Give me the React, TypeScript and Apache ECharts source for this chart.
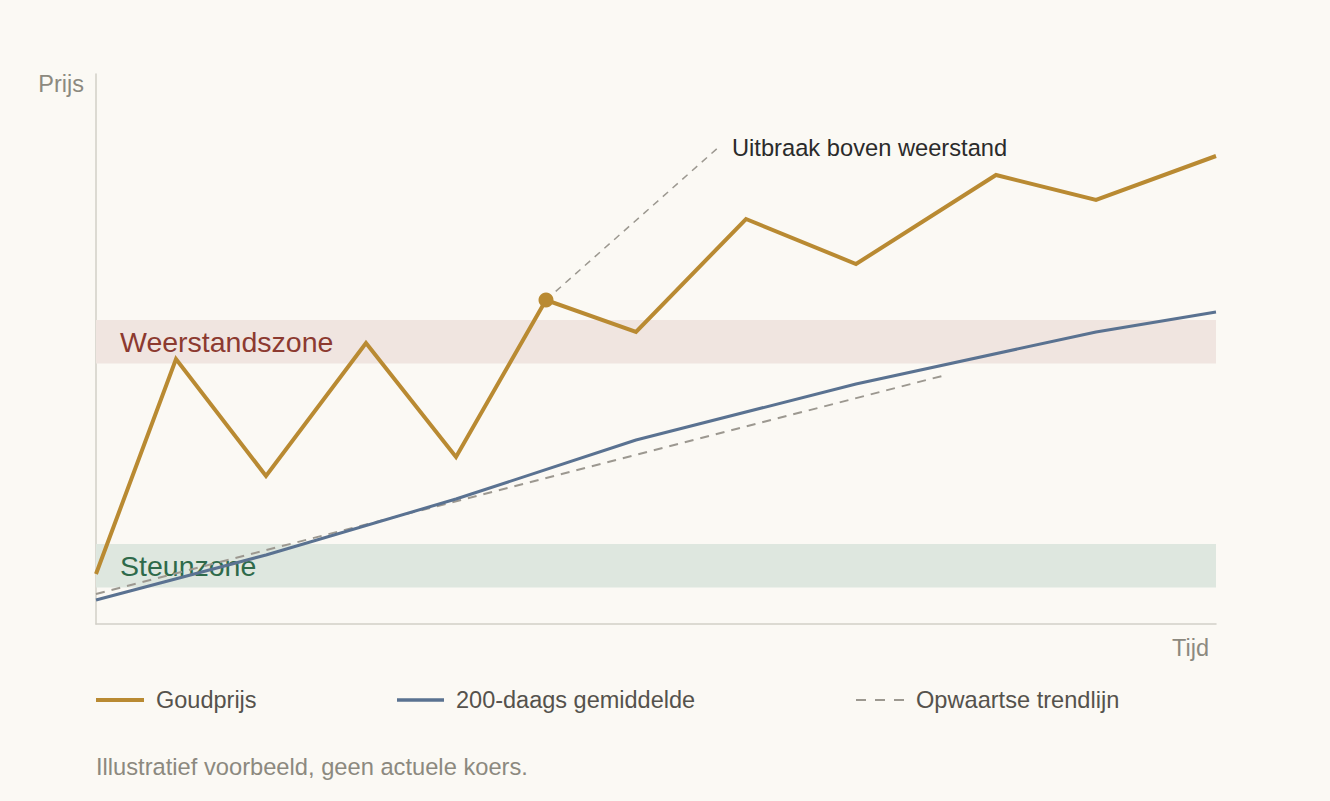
import React, { useEffect, useRef } from "react";
import * as echarts from "echarts";

// Time index (arbitrary units) and price level (arbitrary units)
const goldTime = [0, 8, 17, 27, 36, 45, 54, 65, 76, 90, 100, 112];
const goldPrice = [10, 53, 29.6, 56.2, 33.4, 64.8, 58.4, 81, 72, 89.8, 84.8, 93.6];
const maTime = [0, 17, 36, 54, 76, 100, 112];
const movingAvg = [4.8, 13.8, 25, 36.8, 48, 58.4, 62.4];
const trendTime = [0, 84.6];
const trendValues = [6, 49.6];
const breakoutTime = [45, 62.4];
const breakoutValues = [64.8, 95.6];
const resistanceZone = [52.1, 60.8];
const supportZone = [7.3, 16];
const xRange = [0, 112];
const yRange = [0, 110];

const seriesNames = ["Goudprijs", "200-daags gemiddelde", "Opwaartse trendlijn"];
const zoneNames = ["Weerstandszone", "Steunzone"];
const annotationText = "Uitbraak boven weerstand";
const footerText = "Illustratief voorbeeld, geen actuele koers.";
const yAxisName = "Prijs";
const xAxisName = "Tijd";

const GOLD = "#b98a32";
const BLUE = "#5a7291";
const GREY_DASH = "#9c9890";
const FONT = "'Liberation Sans', Arial, sans-serif";
const BG = "#fbf9f4";

const zip = (xs: number[], ys: number[]) => xs.map((x, i) => [x, ys[i]]);

export default function App() {
  const ref = useRef<HTMLDivElement>(null);

  useEffect(() => {
    document.body.style.margin = "0";
    document.body.style.background = BG;
    const chart = echarts.init(ref.current!, undefined, { renderer: "svg" });

    const axisLine = { show: true, onZero: false, lineStyle: { color: "#d2cfc7", width: 1.5 } };

    chart.setOption({
      animation: false,
      backgroundColor: BG,
      textStyle: { fontFamily: FONT },
      grid: { left: 96, top: 74, width: 1120, height: 550 },
      xAxis: {
        type: "value",
        min: xRange[0],
        max: xRange[1],
        axisLine,
        axisTick: { show: false },
        axisLabel: { show: false },
        splitLine: { show: false },
      },
      yAxis: {
        type: "value",
        min: yRange[0],
        max: yRange[1],
        axisLine,
        axisTick: { show: false },
        axisLabel: { show: false },
        splitLine: { show: false },
      },
      series: [
        {
          name: "zones",
          type: "line",
          data: [],
          z: 1,
          silent: true,
          markArea: {
            silent: true,
            data: [
              [
                {
                  name: zoneNames[0],
                  xAxis: xRange[0],
                  yAxis: resistanceZone[0],
                  itemStyle: { color: "#f0e5e0" },
                  label: { color: "#8c3a30" },
                },
                { xAxis: xRange[1], yAxis: resistanceZone[1] },
              ],
              [
                {
                  name: zoneNames[1],
                  xAxis: xRange[0],
                  yAxis: supportZone[0],
                  itemStyle: { color: "#dee7df" },
                  label: { color: "#2e6a4a" },
                },
                { xAxis: xRange[1], yAxis: supportZone[1] },
              ],
            ],
            label: {
              show: true,
              position: "insideLeft",
              distance: 24,
              fontSize: 28.5,
              fontFamily: FONT,
            },
          },
        },
        {
          name: seriesNames[2],
          type: "line",
          z: 3,
          symbol: "none",
          data: zip(trendTime, trendValues),
          lineStyle: { color: GREY_DASH, width: 2, type: [9, 7] },
        },
        {
          name: seriesNames[1],
          type: "line",
          z: 4,
          symbol: "none",
          data: zip(maTime, movingAvg),
          lineStyle: { color: BLUE, width: 3 },
        },
        {
          name: "annotation",
          type: "line",
          z: 3,
          symbol: "none",
          data: zip(breakoutTime, breakoutValues),
          lineStyle: { color: GREY_DASH, width: 1.5, type: [7, 6] },
          endLabel: {
            show: true,
            formatter: annotationText,
            distance: 12,
            offset: [0, 2],
            fontSize: 23.7,
            color: "#2b2b2b",
            fontFamily: FONT,
          },
        },
        {
          name: seriesNames[0],
          type: "line",
          z: 5,
          symbol: "none",
          data: zip(goldTime, goldPrice),
          lineStyle: { color: GOLD, width: 4, join: "miter" },
        },
        {
          name: "breakout",
          type: "scatter",
          z: 6,
          symbolSize: 15,
          data: [[breakoutTime[0], breakoutValues[0]]],
          itemStyle: { color: GOLD, opacity: 1 },
        },
      ],
      graphic: [
        {
          type: "text",
          x: 84,
          y: 84,
          style: { text: yAxisName, align: "right", verticalAlign: "middle", fontSize: 23.5, fill: "#8c897f", fontFamily: FONT },
        },
        {
          type: "text",
          x: 1209,
          y: 648,
          style: { text: xAxisName, align: "right", verticalAlign: "middle", fontSize: 23.5, fill: "#8c897f", fontFamily: FONT },
        },
        { type: "line", shape: { x1: 96, y1: 700, x2: 144, y2: 700 }, style: { stroke: GOLD, lineWidth: 4 } },
        {
          type: "text",
          x: 156,
          y: 700,
          style: { text: seriesNames[0], verticalAlign: "middle", fontSize: 23.5, fill: "#55524c", fontFamily: FONT },
        },
        { type: "line", shape: { x1: 397, y1: 700, x2: 444, y2: 700 }, style: { stroke: BLUE, lineWidth: 3.5 } },
        {
          type: "text",
          x: 456,
          y: 700,
          style: { text: seriesNames[1], verticalAlign: "middle", fontSize: 23.5, fill: "#55524c", fontFamily: FONT },
        },
        {
          type: "line",
          shape: { x1: 856, y1: 700, x2: 904, y2: 700 },
          style: { stroke: GREY_DASH, lineWidth: 2, lineDash: [10, 9] },
        },
        {
          type: "text",
          x: 916,
          y: 700,
          style: { text: seriesNames[2], verticalAlign: "middle", fontSize: 23.6, fill: "#55524c", fontFamily: FONT },
        },
        {
          type: "text",
          x: 96,
          y: 767,
          style: { text: footerText, verticalAlign: "middle", fontSize: 23.7, fill: "#8c897f", fontFamily: FONT },
        },
      ],
    });

    return () => chart.dispose();
  }, []);

  return (
    <div
      ref={ref}
      style={{ position: "fixed", left: 0, top: 0, width: 1330, height: 801, background: BG }}
    />
  );
}
